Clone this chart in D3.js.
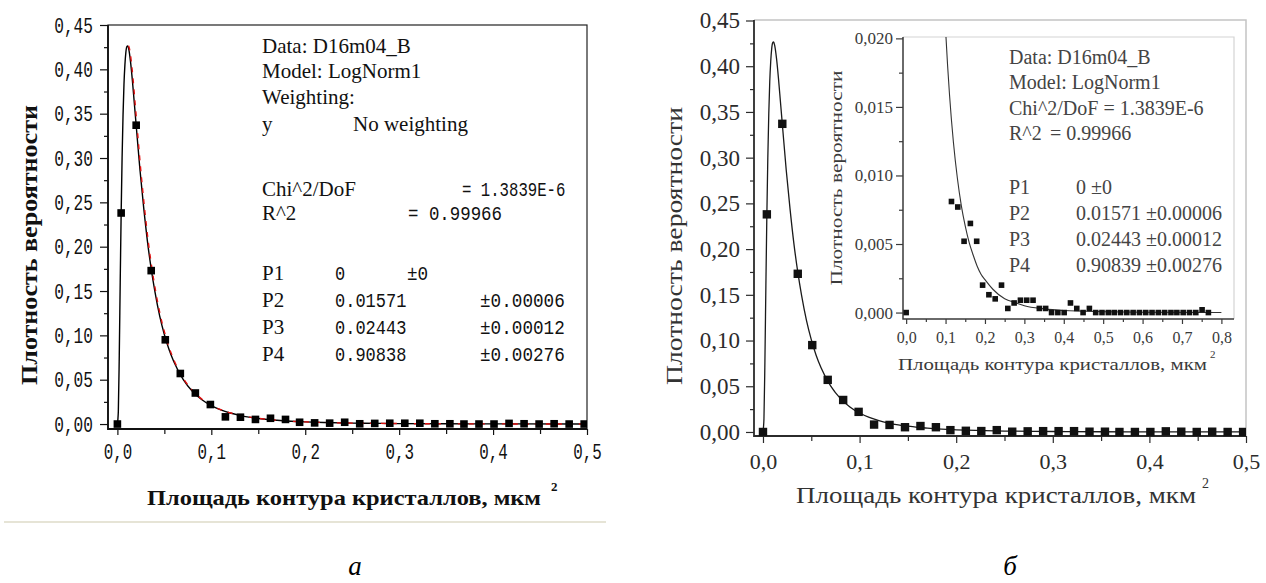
<!DOCTYPE html>
<html><head><meta charset="utf-8">
<script src="https://cdn.jsdelivr.net/npm/d3@7"></script>
<style>html,body{margin:0;padding:0;background:#fff;} svg{display:block;}</style>
</head><body>
<svg id="c" width="1266" height="583"></svg>
<script>
// ---------------- DATA ----------------
const sampleX = [0, 0.004, 0.020, 0.036, 0.051, 0.067, 0.083, 0.099, 0.115, 0.131,
  0.147, 0.163, 0.179, 0.194, 0.210, 0.226, 0.242, 0.258, 0.274, 0.290,
  0.306, 0.322, 0.338, 0.354, 0.369, 0.385, 0.401, 0.417, 0.433, 0.449,
  0.465, 0.481, 0.497, 0.513, 0.528, 0.544, 0.560, 0.576, 0.592, 0.608,
  0.624, 0.640, 0.656, 0.672, 0.687, 0.703, 0.719, 0.735, 0.751, 0.767];
const sampleY = [0, 0.238, 0.337, 0.173, 0.095, 0.057, 0.035, 0.022, 0.0081, 0.0077,
  0.0052, 0.0065, 0.0052, 0.0020, 0.0013, 0.0010, 0.0020, 0.0003, 0.0007, 0.0009,
  0.0009, 0.0009, 0.0003, 0.0003, 0, 0, 0, 0.0007, 0.0003, 0,
  0.0003, 0, 0, 0, 0, 0, 0, 0, 0, 0,
  0, 0, 0, 0, 0, 0, 0, 0, 0.0002, 0];
const fitX = [0, 0.001, 0.002, 0.003, 0.004, 0.005, 0.006, 0.007, 0.008, 0.009, 0.010,
  0.011, 0.012, 0.014, 0.016, 0.018, 0.020, 0.024, 0.028, 0.032, 0.036, 0.040, 0.045,
  0.050, 0.055, 0.060, 0.070, 0.080, 0.090, 0.100, 0.110, 0.120, 0.130, 0.140, 0.150,
  0.160, 0.170, 0.180, 0.190, 0.200, 0.220, 0.250, 0.280, 0.300, 0.350, 0.400, 0.500,
  0.600, 0.800];
const fitY = [0, 0.0141, 0.0776, 0.160, 0.237, 0.300, 0.348, 0.383, 0.405, 0.419, 0.4255,
  0.4265, 0.4233, 0.4085, 0.387, 0.362, 0.337, 0.287, 0.244, 0.206, 0.175, 0.149, 0.122,
  0.101, 0.084, 0.0705, 0.0504, 0.0368, 0.0274, 0.0207, 0.0159, 0.0124, 0.0098, 0.0078, 0.0063,
  0.0051, 0.0042, 0.0034, 0.0028, 0.0024, 0.0017, 0.0010, 0.0007, 0.0005, 0.00027, 0.00015, 0.00006,
  0.00002, 0.000005];

const mainYTicks = [0, 0.05, 0.10, 0.15, 0.20, 0.25, 0.30, 0.35, 0.40, 0.45];
const mainYMinor = [0.025, 0.075, 0.125, 0.175, 0.225, 0.275, 0.325, 0.375, 0.425];
const mainXTicks = [0, 0.1, 0.2, 0.3, 0.4, 0.5];
const mainXMinor = [0.05, 0.15, 0.25, 0.35, 0.45];
const insetYTicks = [0, 0.005, 0.010, 0.015, 0.020];
const insetYMinor = [0.0025, 0.0075, 0.0125, 0.0175];
const insetXTicks = [0, 0.1, 0.2, 0.3, 0.4, 0.5, 0.6, 0.7, 0.8];
const insetXMinor = [0.05, 0.15, 0.25, 0.35, 0.45, 0.55, 0.65, 0.75];

const yTitle = "Плотность вероятности";
const xTitle = "Площадь контура кристаллов, мкм";
const panelLabels = ["а", "б"];

const reportA = [
  ["Data: D16m04_B", "", ""],
  ["Model: LogNorm1", "", ""],
  ["Weighting:", "", ""],
  ["y", "No weighting", ""],
  ["Chi^2/DoF", "= 1.3839E-6", ""],
  ["R^2", "=  0.99966", ""],
  ["P1", "0", "±0"],
  ["P2", "0.01571", "±0.00006"],
  ["P3", "0.02443", "±0.00012"],
  ["P4", "0.90838", "±0.00276"]
];
const reportB = [
  ["Data: D16m04_B", ""],
  ["Model: LogNorm1", ""],
  ["Chi^2/DoF = 1.3839E-6", ""],
  ["R^2", "= 0.99966"],
  ["P1", "0 ±0"],
  ["P2", "0.01571 ±0.00006"],
  ["P3", "0.02443 ±0.00012"],
  ["P4", "0.90839 ±0.00276"]
];

// ---------------- HELPERS ----------------
const svg = d3.select("#c");
const defs = svg.append("defs");
const comma = f => d => d3.format(f)(d).replace(".", ",");
const pts = sampleX.map((x, i) => [x, sampleY[i]]);
const fit = fitX.map((x, i) => [x, fitY[i]]);

function clip(id, x, y, w, h) {
  defs.append("clipPath").attr("id", id).append("rect")
    .attr("x", x).attr("y", y).attr("width", w).attr("height", h);
}
function styleAxis(g, color, font, size, squeeze) {
  g.select(".domain").remove();
  g.selectAll(".tick line").attr("stroke", color).attr("stroke-width", 1.2);
  const t = g.selectAll(".tick text").attr("fill", color)
    .style("font-family", font).style("font-size", size + "px");
  if (squeeze) t.attr("textLength", function () { return this.textContent.length * squeeze; })
    .attr("lengthAdjust", "spacingAndGlyphs");
}

// ================= CHART A =================
const A = { x0: 108, x1: 587, y0: 25, y1: 429 };
const xa = d3.scaleLinear().domain([-0.01, 0.5]).range([A.x0, A.x1]);
const ya = d3.scaleLinear().domain([-0.0056, 0.45]).range([A.y1, A.y0]);
const ga = svg.append("g");
clip("clipA", A.x0, A.y0, A.x1 - A.x0, A.y1 - A.y0 + 4);
const monoA = '"Liberation Mono", monospace';
const serif = '"Liberation Serif", "Times New Roman", serif';

// faint page line
ga.append("line").attr("x1", 4).attr("x2", 606).attr("y1", 522).attr("y2", 522)
  .attr("stroke", "#e6e4d6").attr("stroke-width", 2);

// axes ticks
let g = ga.append("g").attr("transform", `translate(${A.x0},0)`)
  .call(d3.axisLeft(ya).tickValues(mainYMinor).tickSize(4).tickFormat(""));
styleAxis(g, "#111");
g = ga.append("g").attr("transform", `translate(${A.x0},0)`)
  .call(d3.axisLeft(ya).tickValues(mainYTicks).tickSize(8).tickPadding(7).tickFormat(comma(".2f")));
styleAxis(g, "#111", monoA, 22, 9.7);
g = ga.append("g").attr("transform", `translate(0,${A.y1})`)
  .call(d3.axisBottom(xa).tickValues(mainXMinor).tickSize(5).tickFormat(""));
styleAxis(g, "#111");
g = ga.append("g").attr("transform", `translate(0,${A.y1})`)
  .call(d3.axisBottom(xa).tickValues(mainXTicks).tickSize(6).tickPadding(8).tickFormat(comma(".1f")));
styleAxis(g, "#111", monoA, 22, 9.5);

// frame
ga.append("rect").attr("x", A.x0).attr("y", A.y0).attr("width", A.x1 - A.x0).attr("height", A.y1 - A.y0)
  .attr("fill", "none").attr("stroke", "#222").attr("stroke-width", 1.2);
ga.append("path").attr("d", `M${A.x0},${A.y0}V${A.y1}H${A.x1}`).attr("fill", "none")
  .attr("stroke", "#111").attr("stroke-width", 1.8);

// curves
const lineA = d3.line().x(d => xa(d[0])).y(d => ya(d[1])).curve(d3.curveMonotoneX);
ga.append("path").attr("clip-path", "url(#clipA)").attr("d", lineA(fit))
  .attr("fill", "none").attr("stroke", "#000").attr("stroke-width", 1.4);
ga.append("path").attr("clip-path", "url(#clipA)").attr("d", lineA(fit.filter(d => d[0] >= 0.011)))
  .attr("fill", "none").attr("stroke", "#e01010").attr("stroke-width", 1.4)
  .attr("stroke-dasharray", "5,6").attr("transform", "translate(0.8,0)");
// squares
ga.append("g").attr("clip-path", "url(#clipA)").selectAll("rect").data(pts).join("rect")
  .attr("x", d => xa(d[0]) - 3.8).attr("y", d => ya(d[1]) - 3.8)
  .attr("width", 7.6).attr("height", 7.6).attr("fill", "#000");

// titles
ga.append("text").attr("transform", `translate(37,245) rotate(-90)`)
  .attr("text-anchor", "middle").style("font-family", serif).style("font-weight", "bold")
  .style("font-size", "24px").attr("fill", "#111")
  .attr("textLength", 280).attr("lengthAdjust", "spacingAndGlyphs").text(yTitle);
ga.append("text").attr("x", 147).attr("y", 505).style("font-family", serif)
  .style("font-weight", "bold").style("font-size", "22px").attr("fill", "#111")
  .attr("textLength", 394).attr("lengthAdjust", "spacingAndGlyphs").text(xTitle);
ga.append("text").attr("x", 551).attr("y", 491).style("font-family", serif)
  .style("font-weight", "bold").style("font-size", "13px").attr("fill", "#111").text("2");

// report text
const rowYA = [53, 78, 104, 131, 196, 220, 280, 307, 334, 361];
const colA = { v1: [0, 0, 0, 353, 462, 408, 335, 335, 335, 335], v2: [0, 0, 0, 0, 0, 0, 407, 480, 480, 480] };
reportA.forEach((r, i) => {
  ga.append("text").attr("x", 262).attr("y", rowYA[i]).style("font-family", serif)
    .style("font-size", "21px").attr("fill", "#111").text(r[0]);
  if (r[1]) {
    const isNum = i >= 4;
    const t = ga.append("text").attr("x", colA.v1[i]).attr("y", rowYA[i])
      .style("font-family", isNum ? monoA : serif).style("font-size", isNum ? "21px" : "21px")
      .attr("fill", "#111").text(r[1]);
    if (isNum) t.attr("textLength", r[1].length * (i < 6 ? 9.4 : 10.2)).attr("lengthAdjust", "spacingAndGlyphs");
  }
  if (r[2]) {
    ga.append("text").attr("x", colA.v2[i]).attr("y", rowYA[i]).style("font-family", monoA)
      .style("font-size", "21px").attr("fill", "#111")
      .attr("textLength", r[2].length * 10.6).attr("lengthAdjust", "spacingAndGlyphs").text(r[2]);
  }
});

// ================= CHART B =================
const B = { x0: 754, x1: 1246, y0: 20, y1: 436 };
const xb = d3.scaleLinear().domain([-0.0093, 0.5]).range([B.x0, B.x1]);
const yb = d3.scaleLinear().domain([-0.0044, 0.45]).range([B.y1, B.y0 + 0.5]);
const gb = svg.append("g");
clip("clipB", B.x0, B.y0, B.x1 - B.x0, B.y1 - B.y0 + 5);
const cB = "#2b2b2b";

g = gb.append("g").attr("transform", `translate(${B.x0},0)`)
  .call(d3.axisLeft(yb).tickValues(mainYMinor).tickSize(4).tickFormat(""));
styleAxis(g, cB);
g = gb.append("g").attr("transform", `translate(${B.x0},0)`)
  .call(d3.axisLeft(yb).tickValues(mainYTicks).tickSize(8).tickPadding(6).tickFormat(comma(".2f")));
styleAxis(g, cB, serif, 23);
g = gb.append("g").attr("transform", `translate(0,${B.y1})`)
  .call(d3.axisBottom(xb).tickValues(mainXMinor).tickSize(5).tickFormat(""));
styleAxis(g, cB);
g = gb.append("g").attr("transform", `translate(0,${B.y1})`)
  .call(d3.axisBottom(xb).tickValues(mainXTicks).tickSize(7).tickPadding(10).tickFormat(comma(".1f")));
styleAxis(g, cB, serif, 22);

// frame: light top/right, dark left/bottom
gb.append("path").attr("d", `M${B.x0},${B.y0}H${B.x1}V${B.y1}`).attr("fill", "none")
  .attr("stroke", "#c4c4c4").attr("stroke-width", 1.5);
gb.append("path").attr("d", `M${B.x0},${B.y0}V${B.y1}H${B.x1}`).attr("fill", "none")
  .attr("stroke", cB).attr("stroke-width", 1.8);

const lineB = d3.line().x(d => xb(d[0])).y(d => yb(d[1])).curve(d3.curveMonotoneX);
gb.append("path").attr("clip-path", "url(#clipB)").attr("d", lineB(fit))
  .attr("fill", "none").attr("stroke", "#1a1a1a").attr("stroke-width", 1.3);
gb.append("g").attr("clip-path", "url(#clipB)").selectAll("rect").data(pts).join("rect")
  .attr("x", d => xb(d[0]) - 4.2).attr("y", d => yb(d[1]) - 4.2)
  .attr("width", 8.4).attr("height", 8.4).attr("fill", "#111");

gb.append("text").attr("transform", `translate(682,246) rotate(-90)`)
  .attr("text-anchor", "middle").style("font-family", serif).style("font-size", "24px")
  .attr("fill", "#333").attr("textLength", 278).attr("lengthAdjust", "spacingAndGlyphs").text(yTitle);
gb.append("text").attr("x", 796).attr("y", 503).style("font-family", serif)
  .style("font-size", "23px").attr("fill", "#333")
  .attr("textLength", 400).attr("lengthAdjust", "spacingAndGlyphs").text(xTitle);
gb.append("text").attr("x", 1202).attr("y", 488).style("font-family", serif)
  .style("font-size", "14px").attr("fill", "#333").text("2");

// ---------- INSET ----------
const I = { x0: 903, x1: 1234, y0: 37, y1: 319 };
const xi = d3.scaleLinear().domain([-0.008, 0.832]).range([I.x0, I.x1]);
const yi = d3.scaleLinear().domain([-0.00047, 0.0201]).range([I.y1, I.y0]);
const gi = gb.append("g");
clip("clipI", I.x0, I.y0, I.x1 - I.x0, I.y1 - I.y0);
const cI = "#3a3a3a";

g = gi.append("g").attr("transform", `translate(${I.x0},0)`)
  .call(d3.axisLeft(yi).tickValues(insetYMinor).tickSize(4).tickFormat(""));
styleAxis(g, cI);
g = gi.append("g").attr("transform", `translate(${I.x0},0)`)
  .call(d3.axisLeft(yi).tickValues(insetYTicks).tickSize(7).tickPadding(3).tickFormat(comma(".3f")));
styleAxis(g, cI, serif, 17);
g = gi.append("g").attr("transform", `translate(0,${I.y1})`)
  .call(d3.axisBottom(xi).tickValues(insetXMinor).tickSize(3).tickFormat(""));
styleAxis(g, cI);
g = gi.append("g").attr("transform", `translate(0,${I.y1})`)
  .call(d3.axisBottom(xi).tickValues(insetXTicks).tickSize(5).tickPadding(8).tickFormat(comma(".1f")));
styleAxis(g, cI, serif, 16);

gi.append("path").attr("d", `M${I.x0},${I.y0}H${I.x1}V${I.y1}`).attr("fill", "none")
  .attr("stroke", "#d4d4d4").attr("stroke-width", 1.2);
gi.append("path").attr("d", `M${I.x0},${I.y0}V${I.y1}H${I.x1}`).attr("fill", "none")
  .attr("stroke", cI).attr("stroke-width", 1.5);

const lineI = d3.line().x(d => xi(d[0])).y(d => yi(d[1])).curve(d3.curveMonotoneX);
gi.append("path").attr("clip-path", "url(#clipI)").attr("d", lineI(fit.filter(d => d[0] >= 0.08)))
  .attr("fill", "none").attr("stroke", "#333").attr("stroke-width", 1.1);
gi.append("g").selectAll("rect").data(pts.filter(d => d[1] <= 0.0201)).join("rect")
  .attr("x", d => xi(d[0]) - 2.8).attr("y", d => yi(d[1]) - 2.8)
  .attr("width", 5.6).attr("height", 5.6).attr("fill", "#111");

gi.append("text").attr("transform", `translate(842,178) rotate(-90)`)
  .attr("text-anchor", "middle").style("font-family", serif).style("font-size", "16px")
  .attr("fill", cI).attr("textLength", 215).attr("lengthAdjust", "spacingAndGlyphs").text(yTitle);
gi.append("text").attr("x", 898).attr("y", 370).style("font-family", serif)
  .style("font-size", "17px").attr("fill", cI)
  .attr("textLength", 309).attr("lengthAdjust", "spacingAndGlyphs").text(xTitle);
gi.append("text").attr("x", 1210).attr("y", 358).style("font-family", serif)
  .style("font-size", "11px").attr("fill", cI).text("2");

const rowYB = [64, 89, 115, 140, 194, 220, 246, 272];
reportB.forEach((r, i) => {
  gi.append("text").attr("x", 1009).attr("y", rowYB[i]).style("font-family", serif)
    .style("font-size", "20px").attr("fill", "#444").text(r[0]);
  if (r[1]) gi.append("text").attr("x", i === 3 ? 1050 : 1076).attr("y", rowYB[i])
    .style("font-family", serif).style("font-size", "20px").attr("fill", "#444").text(r[1]);
});

// panel labels
svg.append("text").attr("x", 355).attr("y", 575).attr("text-anchor", "middle")
  .style("font-family", serif).style("font-style", "italic").style("font-size", "27px")
  .attr("fill", "#000").text(panelLabels[0]);
svg.append("text").attr("x", 1010).attr("y", 575).attr("text-anchor", "middle")
  .style("font-family", serif).style("font-style", "italic").style("font-size", "27px")
  .attr("fill", "#000").text(panelLabels[1]);
</script>
</body></html>
